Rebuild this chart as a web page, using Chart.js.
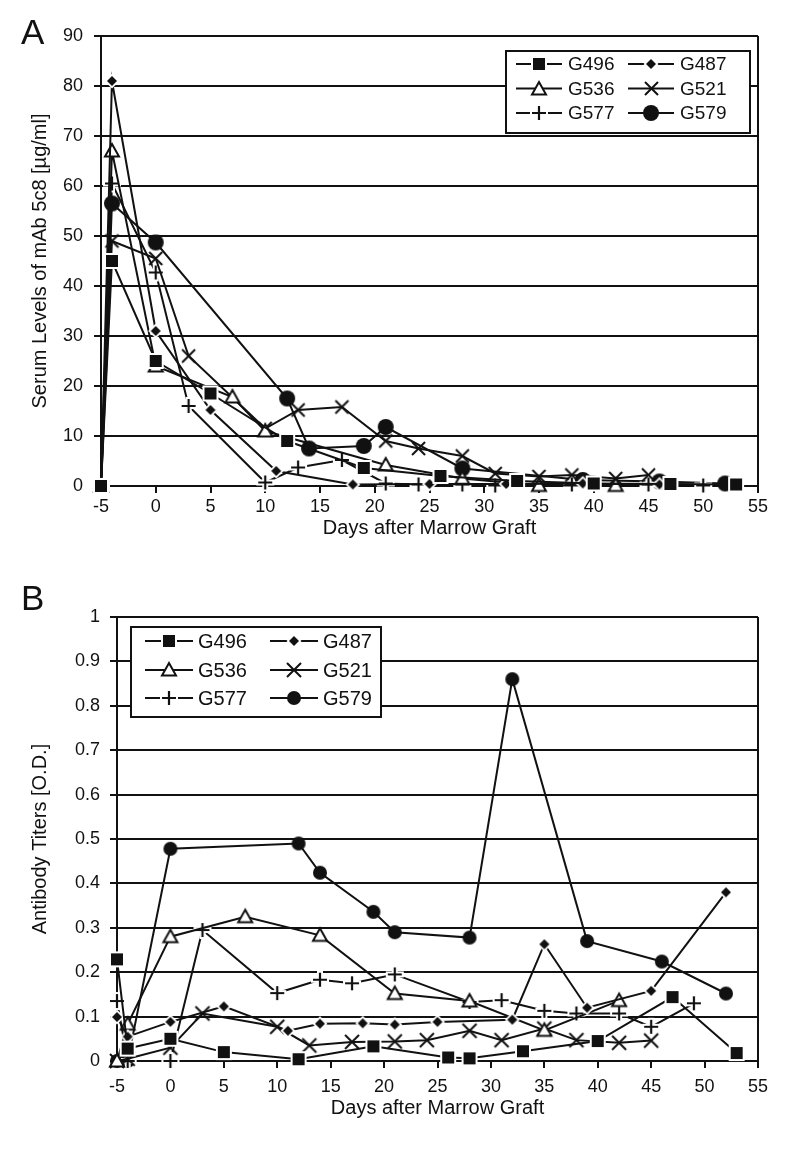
<!DOCTYPE html>
<html>
<head>
<meta charset="utf-8">
<script src="https://cdn.jsdelivr.net/npm/chart.js@4.4.1/dist/chart.umd.min.js"></script>
<style>
  body { margin: 0; background: #fff; }
  #wrap { position: relative; width: 788px; height: 1153px; }
  canvas { position: absolute; left: 0; }
  #chartA { top: 0; }
  #chartB { top: 570px; }
  .panel { position: absolute; font: 35px/1 'Liberation Sans', Arial, sans-serif; color: #111; }
</style>
</head>
<body>
<div id="wrap">
  <canvas id="chartA" width="788" height="570"></canvas>
  <canvas id="chartB" width="788" height="583"></canvas>
  <div class="panel" style="left:21px;top:14px">A</div>
  <div class="panel" style="left:21px;top:580px">B</div>
</div>
<script>
// Series names and marker shapes (legend order)
const SERIES = ['G496', 'G487', 'G536', 'G521', 'G577', 'G579'];
const MARKS = ['square', 'diamond', 'triangle', 'xcross', 'plus', 'circle'];

// Panel A - serum levels of mAb 5c8 [µg/ml]
const daysA_G496 = [-5, -4, 0, 5, 12, 19, 26, 33, 40, 47, 53];
const valsA_G496 = [0, 45, 25, 18.5, 9, 3.6, 2, 1, 0.5, 0.4, 0.3];
const daysA_G487 = [-5, -4, 0, 5, 11, 18, 25, 32, 39, 46];
const valsA_G487 = [0, 81, 31, 15.2, 3, 0.3, 0.4, 0.4, 0.5, 0.3];
const daysA_G536 = [-5, -4, 0, 7, 10, 21, 28, 35, 42];
const valsA_G536 = [0, 67, 24, 17.8, 11, 4.2, 1.5, 0.1, 0.1];
const daysA_G521 = [-5, -4, 0, 3, 10, 13, 17, 21, 24, 28, 31, 35, 38, 42, 45];
const valsA_G521 = [0, 49, 45.5, 26, 11.5, 15.2, 15.8, 9, 7.5, 6, 2.5, 1.9, 2.2, 1.5, 2.2];
const daysA_G577 = [-5, -4, 0, 3, 10, 13, 17, 21, 24, 28, 31, 38, 45, 50];
const valsA_G577 = [0, 60.5, 42.7, 16, 0.7, 3.7, 5.2, 0.5, 0.3, 0.3, 0.1, 0.3, 0.3, 0.1];
const daysA_G579 = [-5, -4, 0, 12, 14, 19, 21, 28, 39, 46, 52];
const valsA_G579 = [0, 56.5, 48.7, 17.5, 7.5, 8, 11.8, 3.5, 1.2, 0.9, 0.5];

// Panel B - antibody titers [O.D.]
const daysB_G496 = [-5, -4, 0, 5, 12, 19, 26, 28, 33, 40, 47, 53];
const valsB_G496 = [0.229, 0.028, 0.05, 0.02, 0.004, 0.033, 0.008, 0.006, 0.022, 0.045, 0.144, 0.018];
const daysB_G487 = [-5, -4, 0, 5, 11, 14, 18, 21, 25, 32, 35, 39, 45, 52];
const valsB_G487 = [0.099, 0.055, 0.088, 0.123, 0.068, 0.084, 0.085, 0.082, 0.088, 0.093, 0.263, 0.12, 0.158, 0.38];
const daysB_G536 = [-5, -4, 0, 7, 14, 21, 28, 35, 42];
const valsB_G536 = [0, 0.083, 0.28, 0.325, 0.283, 0.152, 0.135, 0.069, 0.136];
const daysB_G521 = [-5, -4, 0, 3, 10, 13, 17, 21, 24, 28, 31, 35, 38, 42, 45];
const valsB_G521 = [0, 0.005, 0.03, 0.107, 0.077, 0.035, 0.043, 0.044, 0.047, 0.068, 0.047, 0.073, 0.047, 0.041, 0.046];
const daysB_G577 = [-5, -4, 0, 3, 10, 14, 17, 21, 28, 31, 35, 38, 42, 45, 49];
const valsB_G577 = [0.135, 0, 0, 0.295, 0.153, 0.183, 0.175, 0.195, 0.133, 0.137, 0.113, 0.107, 0.107, 0.077, 0.13];
const daysB_G579 = [-5, -4, 0, 12, 14, 19, 21, 28, 32, 39, 46, 52];
const valsB_G579 = [0, 0, 0.478, 0.49, 0.424, 0.336, 0.29, 0.278, 0.86, 0.27, 0.224, 0.152];

const daysA = [daysA_G496, daysA_G487, daysA_G536, daysA_G521, daysA_G577, daysA_G579];
const valsA = [valsA_G496, valsA_G487, valsA_G536, valsA_G521, valsA_G577, valsA_G579];
const daysB = [daysB_G496, daysB_G487, daysB_G536, daysB_G521, daysB_G577, daysB_G579];
const valsB = [valsB_G496, valsB_G487, valsB_G536, valsB_G521, valsB_G577, valsB_G579];

const INK = '#111';
Chart.defaults.font.family = "'Liberation Sans', Arial, sans-serif";
Chart.defaults.color = INK;

// marker images, white margin makes the small gap where lines meet the mark
function marker(kind, size) {
  const c = document.createElement('canvas');
  c.width = c.height = size + 8;
  const g = c.getContext('2d');
  const m = c.width / 2, r = size / 2;
  g.lineCap = 'butt';
  if (kind === 'square') {
    g.fillStyle = '#fff'; g.fillRect(m - r - 2, m - r - 2, size + 4, size + 4);
    g.fillStyle = INK; g.fillRect(m - r, m - r, size, size);
  } else if (kind === 'diamond') {
    const d = (rr, col) => { g.beginPath(); g.moveTo(m, m - rr); g.lineTo(m + rr, m); g.lineTo(m, m + rr); g.lineTo(m - rr, m); g.closePath(); g.fillStyle = col; g.fill(); };
    d(r + 2.5, '#fff'); d(r, INK);
  } else if (kind === 'triangle') {
    g.beginPath(); g.moveTo(m, m - r); g.lineTo(m + r, m + r * 0.8); g.lineTo(m - r, m + r * 0.8); g.closePath();
    g.fillStyle = '#fff'; g.fill(); g.strokeStyle = INK; g.lineWidth = 2; g.stroke();
  } else if (kind === 'xcross') {
    g.strokeStyle = INK; g.lineWidth = 2; g.beginPath();
    g.moveTo(m - r, m - r); g.lineTo(m + r, m + r); g.moveTo(m + r, m - r); g.lineTo(m - r, m + r); g.stroke();
  } else if (kind === 'plus') {
    const p = (lw, col, ext) => { g.strokeStyle = col; g.lineWidth = lw; g.beginPath();
      g.moveTo(m - r - ext, m); g.lineTo(m + r + ext, m); g.moveTo(m, m - r - ext); g.lineTo(m, m + r + ext); g.stroke(); };
    p(6, '#fff', 2); p(2.2, INK, 0);
  } else {
    g.fillStyle = INK; g.beginPath(); g.arc(m, m, r, 0, Math.PI * 2); g.fill();
  }
  return c;
}

function buildSets(days, vals, sizes) {
  return SERIES.map((name, i) => ({
    label: name,
    data: days[i].map((d, k) => ({ x: d, y: vals[i][k] })),
    borderColor: INK,
    borderWidth: 2,
    pointStyle: marker(MARKS[i], sizes[i]),
    pointRadius: 5,
    clip: false,
    tension: 0
  }));
}

// boxed two-column legend inside the plot area
const boxLegend = {
  id: 'boxLegend',
  afterDatasetsDraw(chart, args, o) {
    const ctx = chart.ctx;
    ctx.save();
    ctx.fillStyle = '#fff'; ctx.fillRect(o.x, o.y, o.w, o.h);
    ctx.strokeStyle = INK; ctx.lineWidth = 2; ctx.strokeRect(o.x, o.y, o.w, o.h);
    ctx.font = o.font; ctx.textBaseline = 'middle';
    chart.data.datasets.forEach((ds, i) => {
      const sx = o.cols[i % 2], cy = o.rows[Math.floor(i / 2)];
      ctx.strokeStyle = INK; ctx.lineWidth = 2;
      ctx.beginPath(); ctx.moveTo(sx, cy); ctx.lineTo(sx + o.sample, cy); ctx.stroke();
      const img = ds.pointStyle;
      ctx.drawImage(img, Math.round(sx + o.sample / 2 - img.width / 2), Math.round(cy - img.height / 2));
      ctx.fillStyle = INK;
      ctx.fillText(ds.label, sx + o.sample + o.gap, cy + 1);
    });
    ctx.restore();
  }
};

function axes(o) {
  return {
    x: {
      type: 'linear', min: -5, max: 55,
      afterFit: s => { s.height = o.xh; },
      ticks: { stepSize: 5, font: { size: 18 }, padding: o.xpad, maxRotation: 0, autoSkip: false },
      grid: { color: c => (c.tick && c.tick.value === 55 ? INK : 'rgba(0,0,0,0)'), lineWidth: 2, tickColor: INK, tickLength: 7, tickWidth: 2 },
      border: { color: INK, width: 2 },
      title: { display: true, text: 'Days after Marrow Graft', font: { size: 20 }, padding: { top: 0, bottom: o.xtp } }
    },
    y: {
      min: 0, max: o.ymax,
      afterFit: s => { s.width = o.yw; },
      ticks: { stepSize: o.ystep, font: { size: 18 }, padding: o.ypad, callback: v => String(Math.round(v * 10) / 10) },
      grid: { color: INK, lineWidth: 2, tickLength: 7 },
      border: { color: INK, width: 2 },
      title: { display: true, text: o.ytitle, font: { size: 20 }, padding: { top: 28, bottom: 0 } }
    }
  };
}

new Chart(document.getElementById('chartA'), {
  type: 'line',
  data: { datasets: buildSets(daysA, valsA, [12, 10, 14, 13, 14, 16]) },
  options: {
    responsive: false, animation: false, devicePixelRatio: 1,
    layout: { padding: { left: 0, top: 36, right: 30, bottom: 0 } },
    plugins: {
      legend: { display: false }, tooltip: { enabled: false },
      boxLegend: { x: 506, y: 51, w: 244, h: 82, cols: [516, 628], rows: [64, 88.5, 113], sample: 46, gap: 6, font: "19px 'Liberation Sans', Arial, sans-serif" }
    },
    scales: axes({ xh: 84, xpad: 3, xtp: 30, yw: 101, ypad: 11, ymax: 90, ystep: 10, ytitle: 'Serum Levels of mAb 5c8 [µg/ml]' })
  },
  plugins: [boxLegend]
});

new Chart(document.getElementById('chartB'), {
  type: 'line',
  data: { datasets: buildSets(daysB, valsB, [12, 10, 14, 14, 14, 14]) },
  options: {
    responsive: false, animation: false, devicePixelRatio: 1,
    layout: { padding: { left: 0, top: 47, right: 30, bottom: 0 } },
    plugins: {
      legend: { display: false }, tooltip: { enabled: false },
      boxLegend: { x: 131, y: 57, w: 250, h: 90, cols: [145, 270], rows: [71, 100, 128], sample: 48, gap: 5, font: "20px 'Liberation Sans', Arial, sans-serif" }
    },
    scales: axes({ xh: 92, xpad: 8, xtp: 33, yw: 117, ypad: 10, ymax: 1, ystep: 0.1, ytitle: 'Antibody Titers [O.D.]' })
  },
  plugins: [boxLegend]
});
</script>
</body>
</html>
